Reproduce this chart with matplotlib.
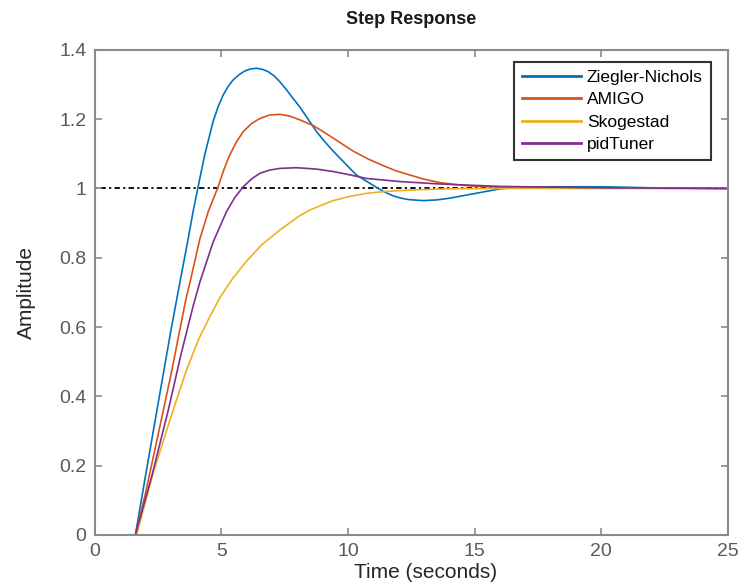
"""Step response of four PID tunings (MATLAB-style step plot)."""

import matplotlib
matplotlib.use("Agg")
import matplotlib.pyplot as plt

# --- Data ---------------------------------------------------------------------
ZN_T = [0, 1.6, 2.0, 2.5, 3.0, 3.4, 3.65, 3.88, 4.08, 4.34, 4.67, 4.87, 5.07,
        5.27, 5.46, 5.69, 5.92, 6.15, 6.39, 6.62, 6.85, 7.08, 7.31, 7.57,
        7.83, 8.1, 8.36, 8.76, 9.05, 9.35, 9.85, 10.33, 10.8, 11.13, 11.5,
        11.78, 12.1, 12.4, 12.97, 13.5, 14.02, 14.6, 15.2, 16.0, 16.65, 18,
        20, 22, 25]
ZN_Y = [0, 0, 0.17, 0.38, 0.588, 0.745, 0.84, 0.933, 1.005, 1.097, 1.193,
        1.236, 1.27, 1.295, 1.313, 1.328, 1.339, 1.345, 1.347, 1.344, 1.337,
        1.325, 1.308, 1.285, 1.26, 1.235, 1.207, 1.164, 1.138, 1.113, 1.075,
        1.039, 1.018, 1.003, 0.988, 0.979, 0.972, 0.968, 0.965, 0.967, 0.972,
        0.98, 0.988, 0.999, 1.003, 1.005, 1.005, 1.002, 1.0]

AMIGO_T = [0, 1.6, 2.0, 2.5, 3.0, 3.59, 3.78, 4.15, 4.48, 4.87, 5.1, 5.33,
           5.6, 5.86, 6.2, 6.52, 6.9, 7.31, 7.7, 8.1, 8.62, 9.28, 9.7, 10.2,
           10.8, 11.39, 11.9, 12.44, 13.0, 13.63, 14.3, 14.94, 16, 18, 25]
AMIGO_Y = [0, 0, 0.12, 0.29, 0.46, 0.678, 0.736, 0.855, 0.933, 1.005, 1.055,
           1.097, 1.135, 1.164, 1.188, 1.202, 1.212, 1.214, 1.209, 1.198,
           1.182, 1.152, 1.132, 1.108, 1.085, 1.066, 1.051, 1.039, 1.027,
           1.017, 1.011, 1.007, 1.004, 1.002, 1.0]

SKOG_T = [0, 1.65, 2.3, 3.0, 3.62, 4.1, 4.54, 4.94, 5.46, 5.99, 6.6, 7.31, 8.1,
          8.5, 9.0, 9.41, 10.07, 10.73, 11.4, 12.05, 13.0, 14.02, 16, 25]
SKOG_Y = [0, 0, 0.178, 0.34, 0.476, 0.565, 0.63, 0.685, 0.742, 0.79, 0.838,
          0.88, 0.922, 0.938, 0.953, 0.965, 0.977, 0.986, 0.991, 0.994, 0.997,
          0.999, 1.0, 1.0]

PID_T = [0, 1.6, 2.25, 2.9, 3.4, 3.88, 4.15, 4.67, 5.2, 5.52, 5.86, 6.2, 6.52,
         6.9, 7.31, 7.96, 8.76, 9.41, 10.1, 10.73, 12.05, 13.63, 16, 20, 25]
PID_Y = [0, 0, 0.17, 0.36, 0.52, 0.66, 0.73, 0.845, 0.933, 0.973, 1.005,
         1.028, 1.044, 1.053, 1.058, 1.06, 1.056, 1.049, 1.039, 1.029, 1.02,
         1.013, 1.006, 1.002, 1.0]

SERIES = [
    ("Ziegler-Nichols", ZN_T, ZN_Y, "#0072BD"),
    ("AMIGO", AMIGO_T, AMIGO_Y, "#D95319"),
    ("Skogestad", SKOG_T, SKOG_Y, "#EDB120"),
    ("pidTuner", PID_T, PID_Y, "#7E2F8E"),
]

X_TICKS = [0, 5, 10, 15, 20, 25]
Y_TICKS = [0, 0.2, 0.4, 0.6, 0.8, 1, 1.2, 1.4]
Y_LABELS = ["0", "0.2", "0.4", "0.6", "0.8", "1", "1.2", "1.4"]

FONT = ["Liberation Sans", "DejaVu Sans"]
AXIS_GREY = "#8a8a8a"
TEXT_GREY = "#5a5a5a"


def main() -> None:
    plt.rcParams["font.family"] = FONT

    fig = plt.figure(figsize=(7.41, 5.87), dpi=100)
    ax = fig.add_axes([0.128, 0.0886, 0.854, 0.8264])

    # steady-state reference
    ax.axhline(1.0, color="black", lw=1.3, linestyle=(0, (1.2, 1.8, 3.0, 1.8)),
               zorder=1)

    for label, t, y, color in SERIES:
        ax.plot(t, y, color=color, lw=1.2, label=label, zorder=2,
                solid_joinstyle="round")

    ax.set_xlim(0, 25)
    ax.set_ylim(0, 1.4)
    ax.set_xticks(X_TICKS)
    ax.set_yticks(Y_TICKS)
    ax.set_yticklabels(Y_LABELS)

    ax.tick_params(direction="in", length=5, width=1.2, colors=AXIS_GREY,
                   labelcolor=TEXT_GREY, labelsize=14, top=True, right=True,
                   pad=6)
    for spine in ax.spines.values():
        spine.set_color(AXIS_GREY)
        spine.set_linewidth(1.5)

    ax.set_xlabel("Time (seconds)", fontsize=15, color="#262626")
    ax.xaxis.set_label_coords(0.522, -0.058)
    ax.set_ylabel("Amplitude", fontsize=15, color="#262626", labelpad=17)
    ax.set_title("Step Response", fontsize=13, fontweight="bold",
                 color="#1a1a1a", pad=19)

    leg = ax.legend(loc="upper right", bbox_to_anchor=(0.973, 0.975),
                    fontsize=12.5, frameon=True, fancybox=False,
                    handlelength=3.4, handletextpad=0.35, borderpad=0.45,
                    labelspacing=0.42, borderaxespad=0)
    leg.get_frame().set_edgecolor("#333333")
    leg.get_frame().set_linewidth(1.5)
    leg.get_frame().set_alpha(1.0)
    for line in leg.get_lines():
        line.set_linewidth(2.0)

    fig.savefig("out.png", dpi=100)


if __name__ == "__main__":
    main()
